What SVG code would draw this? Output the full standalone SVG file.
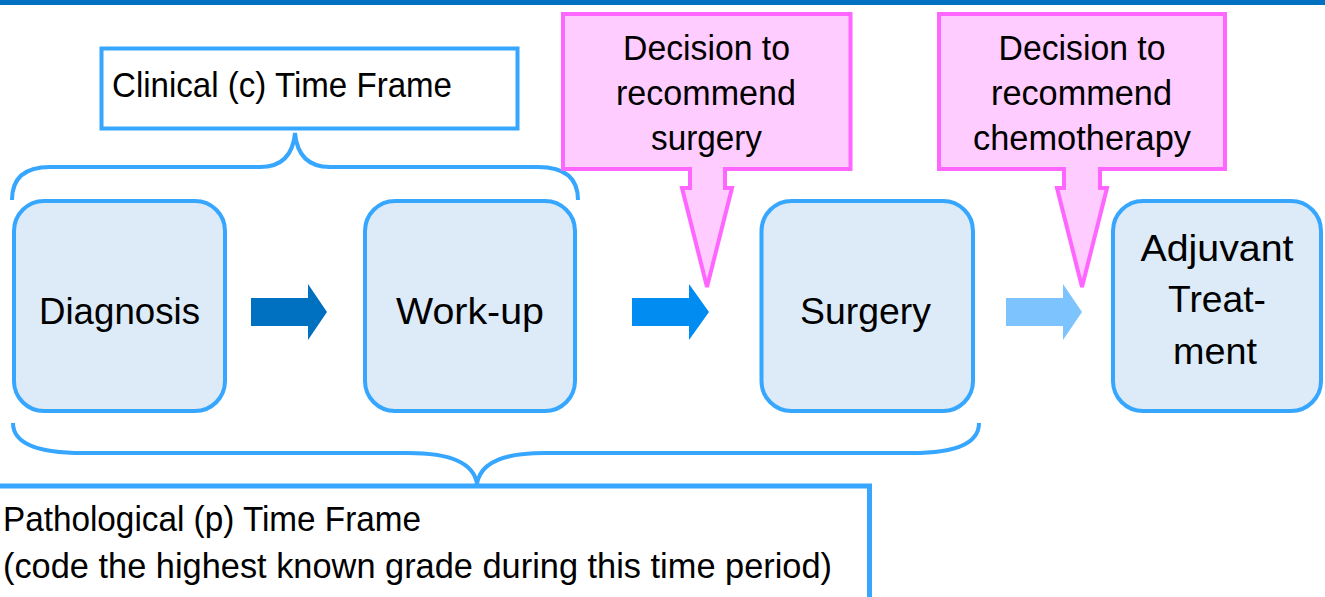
<svg xmlns="http://www.w3.org/2000/svg" width="1325" height="597" viewBox="0 0 1325 597">
<style>
  .node { fill: #DDEBF8; stroke: #36A6FF; stroke-width: 4; }
  .frame { fill: #FFFFFF; stroke: #36A6FF; stroke-width: 4; }
  .brace { fill: none; stroke: #36A6FF; stroke-width: 4; }
  .callout { fill: #FFCCFF; stroke: #FF66FF; stroke-width: 4; stroke-linejoin: miter; }
  text { font-family: "Liberation Sans", Arial, sans-serif; font-size: 35px; fill: #000000; }
  .big { font-size: 37px; }
  .c { text-anchor: middle; }
</style>
<rect x="0" y="0" width="1325" height="5" fill="#0070C0"/>

<g id="clinical-frame">
  <rect class="frame" x="101.5" y="48.5" width="416" height="80"/>
  <text x="112" y="97" textLength="340" lengthAdjust="spacingAndGlyphs">Clinical (c) Time Frame</text>
</g>

<g id="pathological-frame">
  <rect class="frame" x="-10" y="486" width="879.5" height="130" style="stroke-width:5"/>
  <text x="3" y="531" textLength="418" lengthAdjust="spacingAndGlyphs">Pathological (p) Time Frame</text>
  <text x="3" y="578" textLength="829" lengthAdjust="spacingAndGlyphs">(code the highest known grade during this time period)</text>
</g>

<g id="braces">
  <path class="brace" d="M12,200 C12,178 25,167 50,167 H260 C282,167 293,155 295,133 C297,155 308,167 330,167 H538 C565,167 578,178 578,200"/>
  <path class="brace" d="M13,423 C13,443 35,453 83,453 H408 C450,453 474,463 477,484 C480,463 504,453 544,453 H912 C958,453 979,443 979,423"/>
</g>

<g id="diagnosis">
  <rect class="node" x="14" y="201" width="211" height="210" rx="30"/>
  <text class="c big" x="119.5" y="324" textLength="161" lengthAdjust="spacingAndGlyphs">Diagnosis</text>
</g>

<g id="workup">
  <rect class="node" x="365" y="201" width="210" height="210" rx="30"/>
  <text class="c big" x="470" y="324" textLength="148" lengthAdjust="spacingAndGlyphs">Work-up</text>
</g>

<g id="surgery">
  <rect class="node" x="761.5" y="201" width="211.5" height="210" rx="30"/>
  <text class="c big" x="865.5" y="324" textLength="131" lengthAdjust="spacingAndGlyphs">Surgery</text>
</g>

<g id="adjuvant">
  <rect class="node" x="1113" y="201" width="208" height="210" rx="30"/>
  <text class="c big" x="1217" y="261" textLength="153" lengthAdjust="spacingAndGlyphs">Adjuvant</text>
  <text class="c big" x="1217" y="312" textLength="98" lengthAdjust="spacingAndGlyphs">Treat-</text>
  <text class="c big" x="1215" y="364" textLength="84" lengthAdjust="spacingAndGlyphs">ment</text>
</g>

<g id="decision-surgery">
  <path class="callout" d="M563,14 H850.5 V169 H725 V188 H732 L707,287 L682,188 H690 V169 H563 Z"/>
  <text class="c" x="706.5" y="60" textLength="167" lengthAdjust="spacingAndGlyphs">Decision to</text>
  <text class="c" x="706" y="105" textLength="180" lengthAdjust="spacingAndGlyphs">recommend</text>
  <text class="c" x="706.5" y="150" textLength="111" lengthAdjust="spacingAndGlyphs">surgery</text>
</g>

<g id="decision-chemo">
  <path class="callout" d="M939,14 H1225 V169 H1100 V188 H1107 L1082,287 L1057,188 H1064 V169 H939 Z"/>
  <text class="c" x="1082" y="60" textLength="167" lengthAdjust="spacingAndGlyphs">Decision to</text>
  <text class="c" x="1081.5" y="105" textLength="181" lengthAdjust="spacingAndGlyphs">recommend</text>
  <text class="c" x="1082" y="150" textLength="218" lengthAdjust="spacingAndGlyphs">chemotherapy</text>
</g>

<g id="connectors">
  <polygon points="251,298 308,298 308,284 327,312 308,340 308,326 251,326" fill="#0070C0"/>
  <polygon points="632,298 689,298 689,284 709,312 689,340 689,326 632,326" fill="#008CF0"/>
  <polygon points="1006,298 1063,298 1063,284 1082,312 1063,340 1063,326 1006,326" fill="#7DC4FF"/>
</g>
</svg>
